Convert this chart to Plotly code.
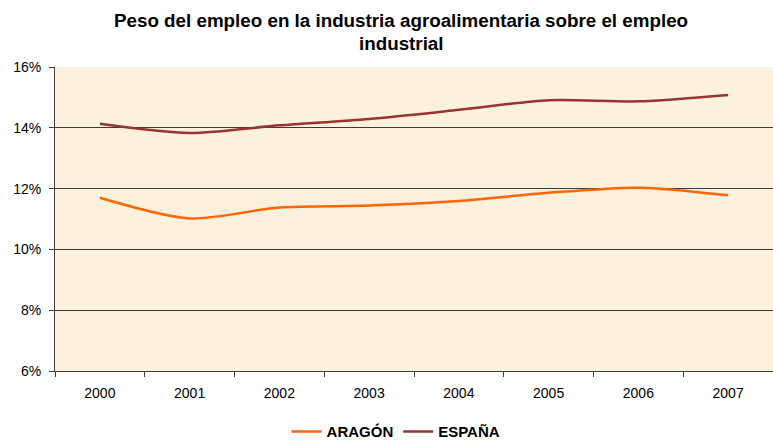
import plotly.graph_objects as go

years = ["2000", "2001", "2002", "2003", "2004", "2005", "2006", "2007"]
aragon = [0.1170, 0.1102, 0.1138, 0.1144, 0.1159, 0.1186, 0.1203, 0.1178]
espana = [0.14135, 0.1383, 0.1408, 0.1429, 0.1459, 0.1491, 0.1487, 0.1508]
y_ticks = [0.06, 0.08, 0.10, 0.12, 0.14, 0.16]
title_lines = ["Peso del empleo en la industria agroalimentaria sobre el empleo", "industrial"]

FONT = "Arial, 'Liberation Sans', sans-serif"

fig = go.Figure()
fig.add_trace(go.Scatter(x=years, y=aragon, name="ARAGÓN", mode="lines",
                         line=dict(color="#FF6600", width=2.5, shape="spline", smoothing=0.8)))
fig.add_trace(go.Scatter(x=years, y=espana, name="ESPAÑA", mode="lines",
                         line=dict(color="#993333", width=2.5, shape="spline", smoothing=0.8)))

for txt, yy in zip(title_lines, [1.1546, 1.0757]):
    fig.add_annotation(text="<b>" + txt + "</b>", xref="paper", yref="paper",
                       x=0.482, y=yy, xanchor="center", yanchor="middle", showarrow=False,
                       font=dict(family=FONT, size=18.8, color="black"))

fig.update_layout(
    width=773, height=443,
    margin=dict(l=55, r=0, t=67, b=72, autoexpand=False),
    paper_bgcolor="white",
    plot_bgcolor="#FBF1DC",
    font=dict(family=FONT, size=14, color="black"),
    showlegend=True,
    legend=dict(orientation="h", x=0.475, xanchor="center", y=-0.2, yanchor="middle",
                font=dict(family=FONT, size=15, color="black", weight="bold"),
                bgcolor="rgba(0,0,0,0)", itemwidth=30, tracegroupgap=0),
)
fig.update_xaxes(type="category", range=[-0.5, 7.5], showgrid=False, automargin=False,
                 showline=True, linecolor="#404040", linewidth=1,
                 ticks="outside", tickson="boundaries", ticklen=5, tickcolor="#404040",
                 ticklabelstandoff=9, tickfont=dict(size=14))
fig.update_yaxes(range=[0.06, 0.16], tickvals=y_ticks, tickformat=".0%", automargin=False,
                 showgrid=True, gridcolor="#3a3a3a", gridwidth=1,
                 showline=True, linecolor="#404040", linewidth=1,
                 ticks="outside", ticklen=5, tickcolor="#404040",
                 ticklabelstandoff=5, zeroline=False, tickfont=dict(size=14))

fig.write_html("out.html", config={"displayModeBar": False},
               post_script="document.body.style.margin='0';document.body.style.overflow='hidden';")
